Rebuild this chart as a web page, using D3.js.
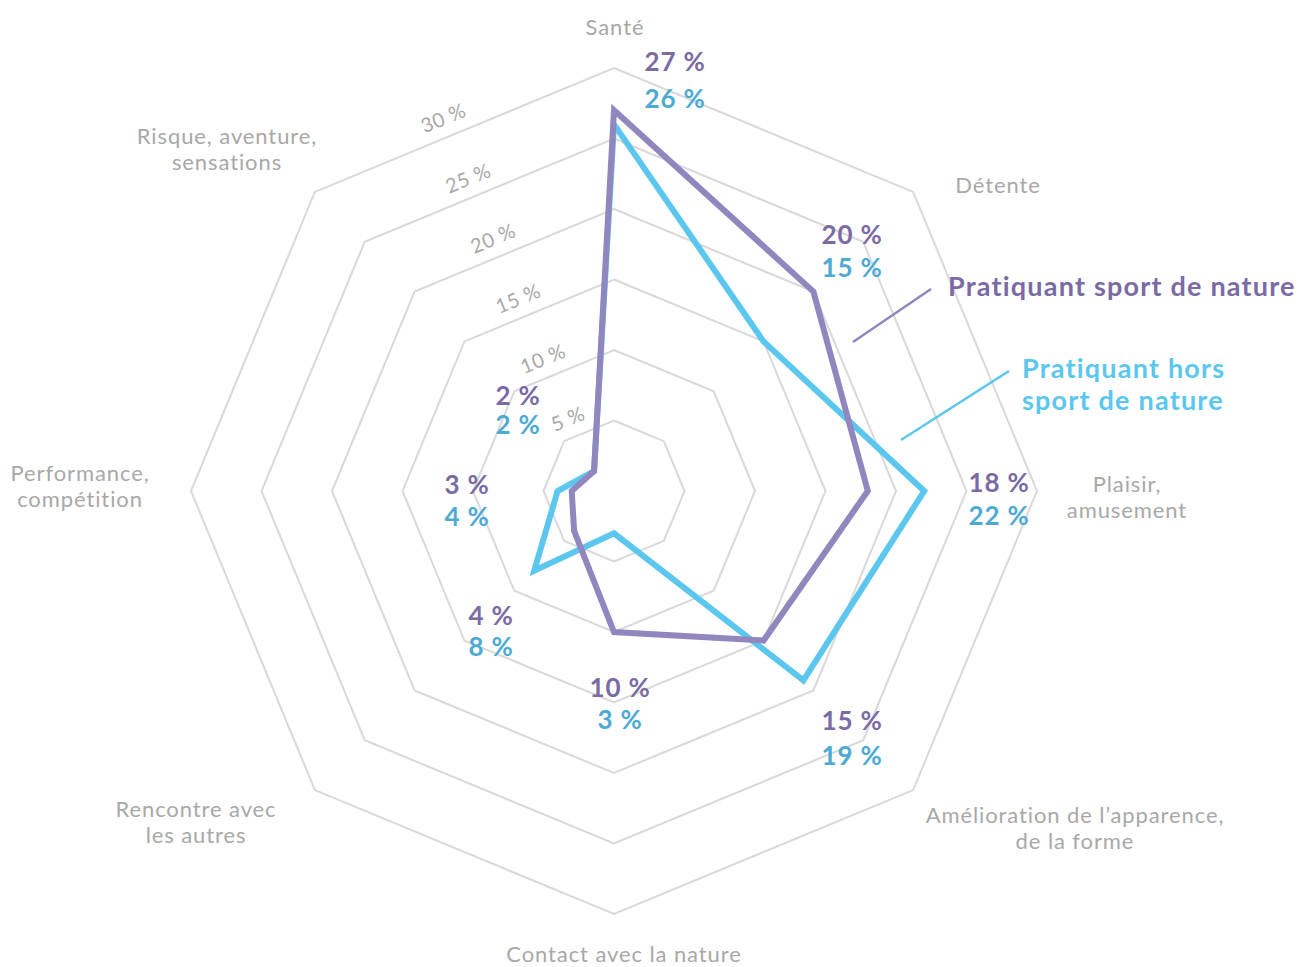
<!DOCTYPE html>
<html lang="fr">
<head>
<meta charset="utf-8">
<script src="https://cdn.jsdelivr.net/npm/d3@7"></script>
<style>
  body { margin: 0; background: #fff; }
  svg text { font-family: Lato, "Open Sans", sans-serif; }
</style>
</head>
<body>
<div id="visualization"></div>
<script>
// axes, clockwise from the top
const categories = [
  'Santé',
  'Détente',
  'Plaisir,\namusement',
  'Amélioration de l’apparence,\nde la forme',
  'Contact avec la nature',
  'Rencontre avec\nles autres',
  'Performance,\ncompétition',
  'Risque, aventure,\nsensations',
];

const natureValues = [27, 20, 18, 15, 10, 4, 3, 2];
const horsValues = [26, 15, 22, 19, 3, 8, 4, 2];

const ringTicks = [5, 10, 15, 20, 25, 30];

const seriesNames = ['Pratiquant sport de nature', 'Pratiquant hors\nsport de nature'];

const width = 1298;
const height = 967;
const cx = 614;
const cy = 491;
const outerRadius = 423;

const colors = {
  nature: '#9286be',
  natureText: '#7a6ba5',
  hors: '#5bc7ef',
  horsText: '#4daad4',
  grid: '#d9d9d9',
  label: '#a8a8a8',
};

// label placement (offsets from the centre), one entry per axis
const categoryLabelPos = [
  [1, -456], [384, -298], [513, 1], [461, 332],
  [10, 471], [-418, 326], [-534, -10], [-387, -347],
];
const valueLabelPos = [
  [675 - cx, -420, 37], [238, -247, 33], [385, 1, 33], [238, 239, 35],
  [6, 206, 32], [-123, 134, 31], [-147, 3, 32], [-96, -86, 29],
];

const svg = d3.select('#visualization')
  .append('svg')
  .attr('width', width)
  .attr('height', height);

const g = svg.append('g')
  .attr('transform', `translate(${cx},${cy})`);

const rScale = d3.scaleLinear()
  .domain([0, 30])
  .range([0, outerRadius]);

const angle = (i) => (i * 2 * Math.PI) / categories.length;

const radial = d3.lineRadial()
  .angle((d, i) => angle(i))
  .radius((d) => rScale(d))
  .curve(d3.curveLinearClosed);

// rings
g.append('g')
  .selectAll('path')
  .data(ringTicks)
  .enter()
  .append('path')
  .attr('d', (t) => radial(categories.map(() => t)))
  .attr('fill', 'none')
  .attr('stroke', colors.grid)
  .attr('stroke-width', 2);

// ring labels, along the edge between Risque and Santé
const half = Math.PI / categories.length;
g.append('g')
  .selectAll('text')
  .data(ringTicks)
  .enter()
  .append('text')
  .attr('transform', (t) => {
    const d = rScale(t) * Math.cos(half);
    return `translate(${-d * Math.sin(half)},${-d * Math.cos(half)}) rotate(${(-half * 180) / Math.PI})`;
  })
  .attr('x', -15)
  .attr('y', -12)
  .attr('text-anchor', 'middle')
  .attr('fill', colors.label)
  .attr('font-size', 20)
  .attr('letter-spacing', 0.6)
  .text((t) => `${t} %`);

// series
const series = [
  { values: horsValues, color: colors.hors },
  { values: natureValues, color: colors.nature },
];

g.append('g')
  .selectAll('path')
  .data(series)
  .enter()
  .append('path')
  .attr('d', (s) => radial(s.values))
  .attr('fill', 'none')
  .attr('stroke', (s) => s.color)
  .attr('stroke-width', 6)
  .attr('stroke-linejoin', 'miter')
  .attr('stroke-miterlimit', 12);

// category labels
const catText = g.append('g')
  .selectAll('text')
  .data(categories)
  .enter()
  .append('text')
  .attr('x', (d, i) => categoryLabelPos[i][0])
  .attr('y', (d, i) => categoryLabelPos[i][1])
  .attr('text-anchor', 'middle')
  .attr('fill', colors.label)
  .attr('font-size', 22)
  .attr('letter-spacing', 0.9);

catText.selectAll('tspan')
  .data((d, i) => d.split('\n').map((line) => ({ line, i })))
  .enter()
  .append('tspan')
  .attr('x', (d) => categoryLabelPos[d.i][0])
  .attr('dy', (d, j) => (j === 0 ? 0 : 25.5))
  .text((d) => d.line);

// value labels
const valueG = g.append('g')
  .selectAll('g')
  .data(categories)
  .enter()
  .append('g')
  .attr('transform', (d, i) => `translate(${valueLabelPos[i][0]},${valueLabelPos[i][1]})`)
  .attr('font-size', 26)
  .attr('font-weight', 'bold')
  .attr('letter-spacing', 0.8)
  .attr('text-anchor', 'middle');

valueG.append('text')
  .attr('fill', colors.natureText)
  .text((d, i) => `${natureValues[i]} %`);

valueG.append('text')
  .attr('y', (d, i) => valueLabelPos[i][2])
  .attr('fill', colors.horsText)
  .text((d, i) => `${horsValues[i]} %`);

// legend
const legend = svg.append('g')
  .attr('font-size', 27)
  .attr('font-weight', 'bold')
  .attr('letter-spacing', 1.2);

legend.append('line')
  .attr('x1', 853).attr('y1', 342)
  .attr('x2', 931).attr('y2', 289)
  .attr('stroke', colors.nature)
  .attr('stroke-width', 2.5);

legend.append('text')
  .attr('x', 948)
  .attr('y', 296)
  .attr('fill', colors.natureText)
  .text(seriesNames[0]);

legend.append('line')
  .attr('x1', 901).attr('y1', 440)
  .attr('x2', 1009).attr('y2', 371)
  .attr('stroke', colors.hors)
  .attr('stroke-width', 2.5);

legend.append('text')
  .attr('fill', colors.hors)
  .selectAll('tspan')
  .data(seriesNames[1].split('\n'))
  .enter()
  .append('tspan')
  .attr('x', 1022)
  .attr('y', (d, j) => 378 + j * 32)
  .text((d) => d);
</script>
</body>
</html>
